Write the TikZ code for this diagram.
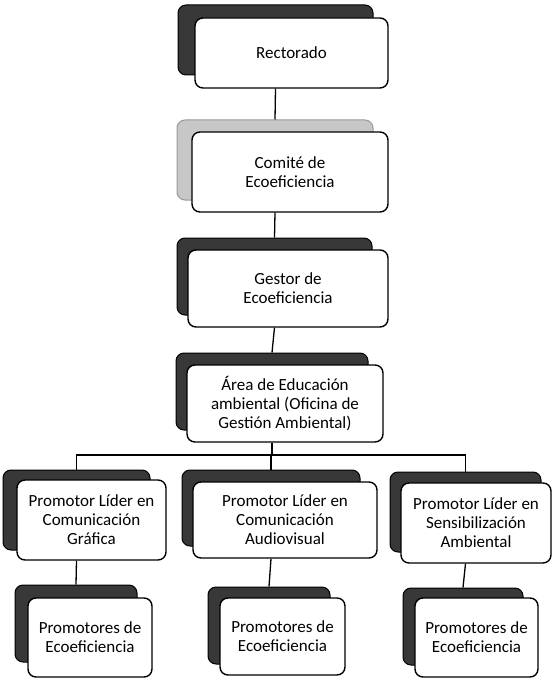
\documentclass[tikz,border=0pt]{standalone}
\usepackage{fontspec}
\setmainfont{Carlito}
\begin{document}
\begin{tikzpicture}[x=1pt,y=-1pt]
\tikzset{
  front/.style={draw=black, line width=1.4pt, rounded corners=8pt, fill=white,
    align=center, inner sep=0pt, font=\fontsize{17}{19}\selectfont},
  back/.style={draw=black, line width=1pt, rounded corners=8pt, fill=black!78, inner sep=0pt},
  backlight/.style={back, fill=black!22, draw=black!40},
  link/.style={draw=black, line width=1.3pt}
}
\useasboundingbox (0,0) rectangle (552,682);
% shadows
\node[back, minimum width=195pt, minimum height=70pt] (rs) at (275.5,40) {};
\node[backlight, minimum width=196pt, minimum height=80pt] (cs) at (275,160) {};
\node[back, minimum width=195pt, minimum height=77pt] (gs) at (274.5,276.5) {};
\node[back, minimum width=192pt, minimum height=77pt] (as) at (272,391.5) {};
\node[back, minimum width=147pt, minimum height=80pt] (ls) at (76.5,510) {};
\node[back, minimum width=178pt, minimum height=76pt] (ms) at (271,508) {};
\node[back, minimum width=151pt, minimum height=80pt] (rrs) at (465.5,512) {};
\node[back, minimum width=122pt, minimum height=77pt] (bls) at (76,623.5) {};
\node[back, minimum width=122pt, minimum height=77pt] (bms) at (269,625.5) {};
\node[back, minimum width=120pt, minimum height=77pt] (brs) at (463,626.5) {};
% fronts
\node[front, minimum width=193pt, minimum height=70pt] (r) at (291.5,53) {Rectorado};
\node[front, minimum width=196pt, minimum height=80pt] (c) at (290,172) {Comité de\\Ecoeficiencia};
\node[front, minimum width=200pt, minimum height=77pt] (g) at (288,288.5) {Gestor de\\Ecoeficiencia};
\node[front, minimum width=196pt, minimum height=77pt] (a) at (285,403.5) {Área de Educación\\ambiental (Oficina de\\Gestión Ambiental)};
\node[front, minimum width=149pt, minimum height=80pt] (l) at (91.5,520) {Promotor Líder en\\Comunicación\\Gráfica};
\node[front, minimum width=184pt, minimum height=76pt] (m) at (285,520) {Promotor Líder en\\Comunicación\\Audiovisual};
\node[front, minimum width=150pt, minimum height=80pt] (rr) at (476,523) {Promotor Líder en\\Sensibilización\\Ambiental};
\node[front, minimum width=124pt, minimum height=79pt] (bl) at (90,637.5) {Promotores de\\Ecoeficiencia};
\node[front, minimum width=125pt, minimum height=77pt] (bm) at (282.5,636.5) {Promotores de\\Ecoeficiencia};
\node[front, minimum width=123pt, minimum height=79pt] (br) at (476.5,637.5) {Promotores de\\Ecoeficiencia};
% connectors
\coordinate (bus) at (0,455);
\draw[link] (rs |- r.south) -- (cs.north);
\draw[link] (cs |- c.south) -- (gs.north);
\draw[link] (gs |- g.south) -- (as.north);
\draw[link] (as |- a.south) -- (as |- bus);
\draw[link] (ls.north) -- (ls |- bus) -- (rrs |- bus) -- (rrs.north);
\draw[link] (ms |- bus) -- (ms.north);
\draw[link] (ls |- l.south) -- (bls.north);
\draw[link] (ms |- m.south) -- (bms.north);
\draw[link] (rrs |- rr.south) -- (brs.north);
\end{tikzpicture}
\end{document}
